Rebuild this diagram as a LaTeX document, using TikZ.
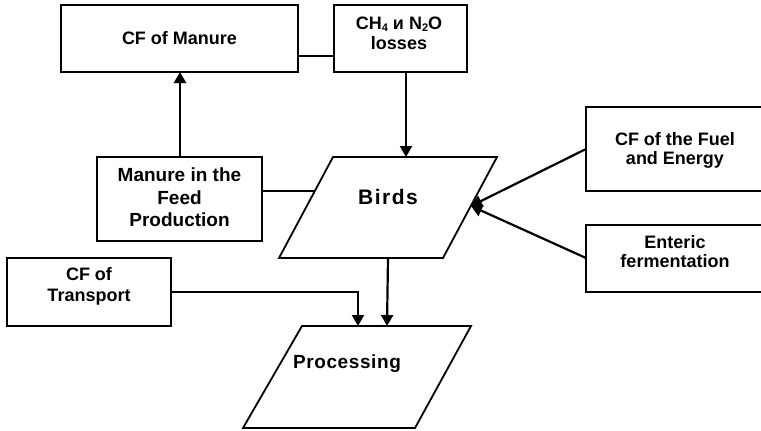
\documentclass[tikz,border=0pt]{standalone}
\usepackage{fontspec}
\setmainfont{Liberation Sans}
\usetikzlibrary{arrows.meta}
\newcommand{\sz}[1]{\fontsize{#1}{#1}\selectfont}
\newcommand{\lowsub}[1]{\raisebox{-0.25ex}{\fontsize{11}{11}\selectfont #1}}
\begin{document}
\begin{tikzpicture}[x=1pt,y=-1pt,
  box/.style={draw,line width=1.8pt,rectangle,inner sep=0pt,outer sep=0pt},
  txt/.style={align=center,inner sep=0pt,font=\bfseries\fontsize{18}{19}\selectfont},
  link/.style={line width=1.8pt},
  arr/.style={line width=2.2pt,-{Triangle[length=11pt,width=12pt]}},
  lbl/.style={font=\bfseries,align=center,inner sep=0pt}]
\useasboundingbox (0,0) rectangle (761,431);

% rectangular boxes
\node[box,minimum width=237pt,minimum height=67pt] (manure) at (179.5,38.5) {};
\node[txt] (manure-t) at (179.5,38) {CF of Manure};

\node[box,minimum width=133pt,minimum height=67pt] (gas) at (400.5,38.5) {};
\node[txt,font=\bfseries\fontsize{18}{20}\selectfont] (gas-t) at (399,33) {CH\lowsub{4} и N\lowsub{2}O\\losses};

\node[box,minimum width=165pt,minimum height=84pt] (feed) at (179.5,199) {};
\node[txt,font=\bfseries\fontsize{19}{22.5}\selectfont] (feed-t) at (179.5,197.5) {Manure in the\\Feed\\Production};

\node[box,minimum width=178pt,minimum height=84pt] (fuel) at (675,149) {};
\node[txt] (fuel-t) at (675,150.5) {CF of the Fuel\\and Energy};

\node[box,minimum width=178pt,minimum height=67pt] (enteric) at (675,258.5) {};
\node[txt] (enteric-t) at (675,252) {Enteric\\fermentation};

\node[box,minimum width=164pt,minimum height=68pt] (transport) at (89,292) {};
\node[txt,font=\bfseries\fontsize{18}{21}\selectfont] (transport-t) at (89,286.5) {CF of\\Transport};

% parallelogram: Birds
\draw[line width=1.8pt,line join=miter] (333,157) -- (497,157) -- (443,258) -- (279,258) -- cycle;
\node[lbl,font=\bfseries\sz{21}] (birds) at (388,197) {B\kern1.5pt i\kern1.5pt r\kern1.5pt d\kern1.5pt s};
\coordinate (birdsTop) at (406,157);
\coordinate (birdsLeft) at (315,191);
\coordinate (birdsRight) at (471,206);
\coordinate (birdsBot) at (388,258);

% parallelogram: Processing
\draw[line width=1.8pt,line join=miter] (302,326) -- (471,326) -- (415,428) -- (243,428) -- cycle;
\node[lbl,font=\bfseries\sz{19}] (proc) at (347,364) {P\kern0.6pt r\kern0.6pt o\kern0.6pt c\kern0.6pt e\kern0.6pt s\kern0.6pt s\kern0.6pt i\kern0.6pt n\kern0.6pt g};
\coordinate (procA) at (358,326);
\coordinate (procB) at (387,326);

% connectors
\draw[link] (manure.east |- 0,56) -- (gas.west |- 0,56);
\draw[arr] (gas.south -| 406,0) -- (birdsTop);
\draw[arr] (feed.north -| 180,0) -- (manure.south -| 180,0);
\draw[link] (feed.east |- 0,191) -- (birdsLeft);
\draw[arr] (fuel.west |- 0,149) -- (birdsRight);
\draw[arr] (enteric.west |- 0,258) -- (birdsRight);
\draw[arr] (birdsBot) -- (procB);
\draw[arr] (transport.east) -- (358,292) -- (procA);
\end{tikzpicture}
\end{document}
